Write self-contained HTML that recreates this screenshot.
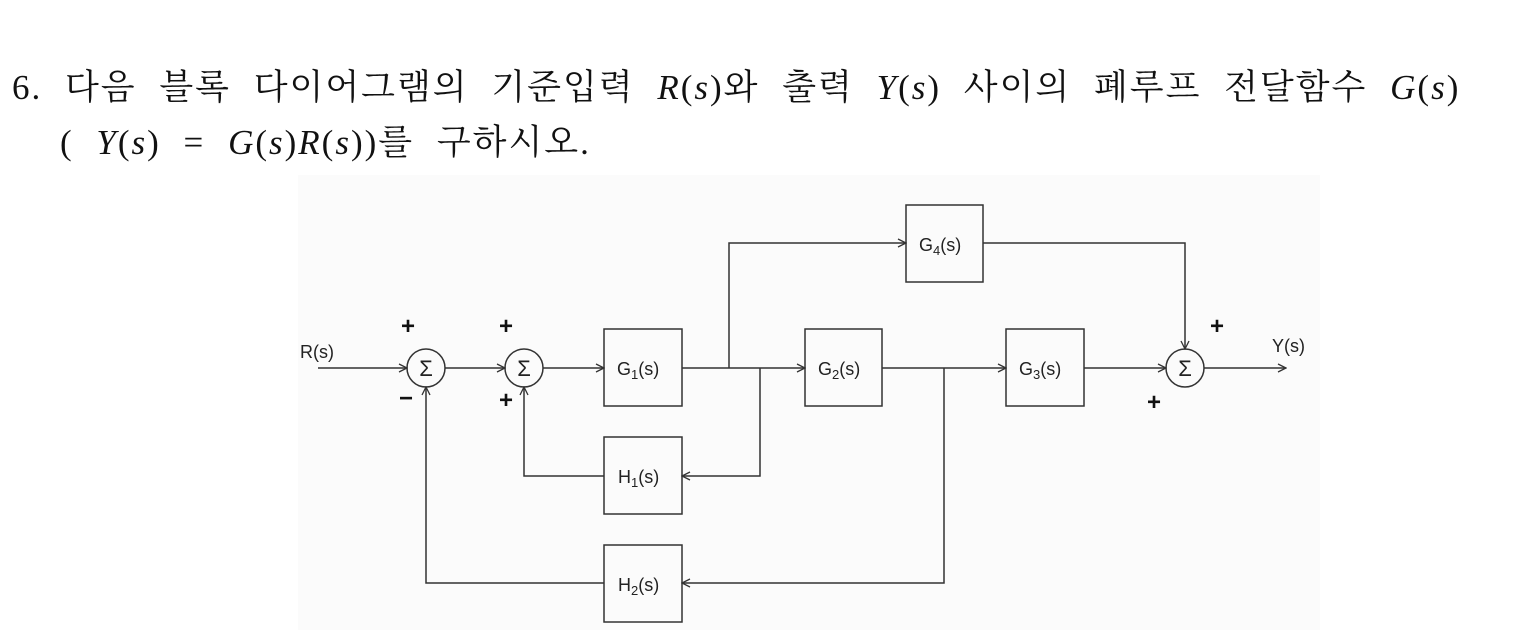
<!DOCTYPE html>
<html><head><meta charset="utf-8"><style>
html,body{margin:0;padding:0;background:#fff;width:1525px;height:630px;overflow:hidden;position:relative}
.t{position:absolute;font-family:"Liberation Serif","Noto Serif CJK SC","Noto Sans CJK KR",serif;font-size:35px;color:#111;white-space:nowrap;letter-spacing:2px;word-spacing:12px}
.t i{font-style:italic}
</style></head><body>
<div class="t" style="left:12px;top:60px;">6. 다음 블록 다이어그램의 기준입력 <i>R</i>(<i>s</i>)와 출력 <i>Y</i>(<i>s</i>) 사이의 폐루프 전달함수 <i>G</i>(<i>s</i>)</div>
<div class="t" style="left:60px;top:115px;">( <i>Y</i>(<i>s</i>) = <i>G</i>(<i>s</i>)<i>R</i>(<i>s</i>))를 구하시오.</div>
<svg width="1525" height="630" style="position:absolute;left:0;top:0">
<defs><marker id="a" markerWidth="10" markerHeight="10" refX="9" refY="5" orient="auto" markerUnits="userSpaceOnUse"><path d="M1,1 L9,5 L1,9" fill="none" stroke="#333" stroke-width="1.3"/></marker></defs>
<rect x="298" y="175" width="1022" height="455" fill="#fbfbfb"/>
<g stroke="#333" stroke-width="1.5" fill="none">
<rect x="604" y="329" width="78" height="77"/>
<rect x="805" y="329" width="77" height="77"/>
<rect x="1006" y="329" width="78" height="77"/>
<rect x="906" y="205" width="77" height="77"/>
<rect x="604" y="437" width="78" height="77"/>
<rect x="604" y="545" width="78" height="77"/>
<circle cx="426" cy="368" r="19"/>
<circle cx="524" cy="368" r="19"/>
<circle cx="1185" cy="368" r="19"/>
<path d="M318,368 H407" marker-end="url(#a)"/>
<path d="M445,368 H505" marker-end="url(#a)"/>
<path d="M543,368 H604" marker-end="url(#a)"/>
<path d="M682,368 H805" marker-end="url(#a)"/>
<path d="M882,368 H1006" marker-end="url(#a)"/>
<path d="M1084,368 H1166" marker-end="url(#a)"/>
<path d="M1204,368 H1286" marker-end="url(#a)"/>
<path d="M729,368 V243 H906" marker-end="url(#a)"/>
<path d="M983,243 H1185 V349" marker-end="url(#a)"/>
<path d="M760,368 V476 H682" marker-end="url(#a)"/>
<path d="M604,476 H524 V387" marker-end="url(#a)"/>
<path d="M944,368 V583 H682" marker-end="url(#a)"/>
<path d="M604,583 H426 V387" marker-end="url(#a)"/>
</g>
<g font-family="Liberation Sans,sans-serif" font-size="18" fill="#222">
<text x="300" y="358">R(s)</text>
<text x="1272" y="352">Y(s)</text>
<text x="617" y="375">G<tspan font-size="13" dy="4">1</tspan><tspan dy="-4">(s)</tspan></text>
<text x="818" y="375">G<tspan font-size="13" dy="4">2</tspan><tspan dy="-4">(s)</tspan></text>
<text x="1019" y="375">G<tspan font-size="13" dy="4">3</tspan><tspan dy="-4">(s)</tspan></text>
<text x="919" y="251">G<tspan font-size="13" dy="4">4</tspan><tspan dy="-4">(s)</tspan></text>
<text x="618" y="483">H<tspan font-size="13" dy="4">1</tspan><tspan dy="-4">(s)</tspan></text>
<text x="618" y="591">H<tspan font-size="13" dy="4">2</tspan><tspan dy="-4">(s)</tspan></text>
<text x="426" y="376" text-anchor="middle" font-size="22">Σ</text>
<text x="524" y="376" text-anchor="middle" font-size="22">Σ</text>
<text x="1185" y="376" text-anchor="middle" font-size="22">Σ</text>
</g>
<g font-family="Liberation Sans,sans-serif" font-size="24" font-weight="bold" fill="#111" text-anchor="middle">
<text x="408" y="334">+</text>
<text x="506" y="334">+</text>
<text x="506" y="408">+</text>
<text x="406" y="406">−</text>
<text x="1217" y="334">+</text>
<text x="1154" y="410">+</text>
</g>
</svg>
</body></html>
